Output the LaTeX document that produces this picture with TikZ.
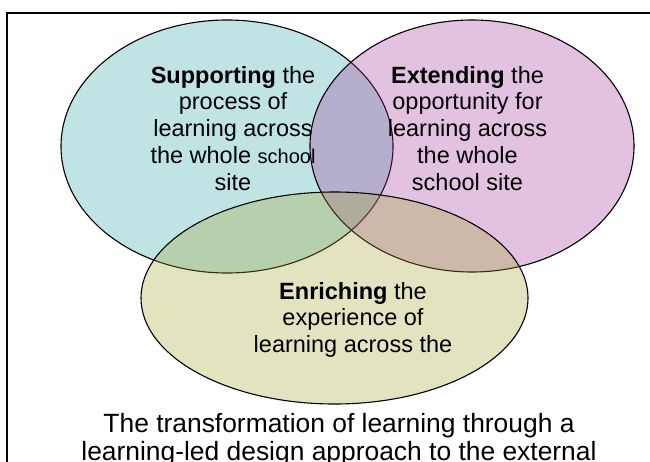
\documentclass[tikz,border=0pt]{standalone}
\usepackage{fontspec}
\setmainfont{Liberation Sans}
\usepackage{tikz}
\usetikzlibrary{shapes.geometric}
\usepackage{xcolor}
\definecolor{supportc}{RGB}{45,165,165}
\definecolor{extendc}{RGB}{158,52,152}
\definecolor{enrichc}{RGB}{162,162,48}
\newcommand{\smalltxt}[1]{{\fontsize{20}{24}\selectfont #1}}

\begin{document}
\begin{tikzpicture}[
    x=1pt, y=-1pt,
    set/.style={ellipse, draw, line width=1.1pt, fill opacity=0.3,
                inner sep=0pt},
    txt/.style={align=center, anchor=base, inner sep=0pt,
                font=\fontsize{23.5}{26.7}\selectfont},
    caption/.style={align=center, anchor=base, inner sep=0pt,
                font=\fontsize{26.4}{28}\selectfont}
  ]
  \useasboundingbox (0,0) rectangle (650,461);
  \clip (0,0) rectangle (650,461);
  % outer frame, runs off the page on the right and at the bottom
  \draw[line width=1.3pt] (7,13) rectangle (660,480);

  % the three sets
  \node[set, fill=supportc, minimum width=332pt, minimum height=253pt]
    (support) at (227,146.5) {};
  \node[set, fill=extendc, minimum width=324pt, minimum height=252pt]
    (extend) at (472,146) {};
  \node[set, fill=enrichc, minimum width=387pt, minimum height=212pt]
    (enrich) at (334.5,298) {};

  % labels sit on the baseline of their last line
  \node[txt] (supporttxt) at (233,190)
    {\textbf{Supporting} the\\process of\\learning across\\
     the whole \smalltxt{school}\\site};
  \node[txt] (extendtxt) at (467.5,190)
    {\textbf{Extending} the\\opportunity for\\learning across\\
     the whole\\school site};
  \node[txt] (enrichtxt) at (353,352.5)
    {\textbf{Enriching} the\\experience of\\learning across the};

  \node[caption] (cap) at (339,460)
    {The transformation of learning through a\\
     learning-led design approach to the external};
\end{tikzpicture}
\end{document}
